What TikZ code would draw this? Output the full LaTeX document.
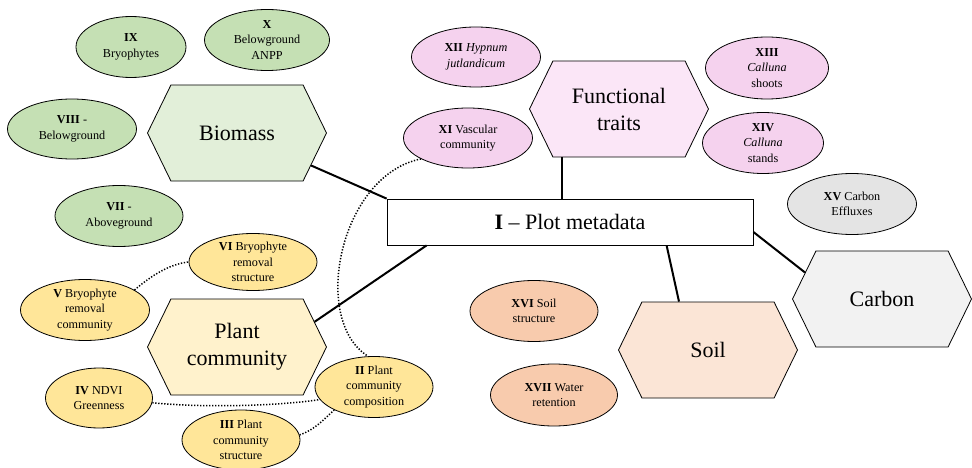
\documentclass[tikz,border=0pt]{standalone}
\usepackage{fontspec}
\setmainfont{Liberation Serif}
\usetikzlibrary{shapes.symbols,shapes.geometric,calc}
\definecolor{bioA}{HTML}{E2EFD9}
\definecolor{bioB}{HTML}{C5E0B4}
\definecolor{ftA}{HTML}{FBE6F7}
\definecolor{ftB}{HTML}{F5D2EE}
\definecolor{pcA}{HTML}{FFF2CC}
\definecolor{pcB}{HTML}{FFE699}
\definecolor{soA}{HTML}{FBE5D6}
\definecolor{soB}{HTML}{F8CBAD}
\definecolor{caA}{HTML}{F2F2F2}
\definecolor{caB}{HTML}{E4E4E4}

\begin{document}
\begin{tikzpicture}[x=1pt,y=-1pt,
  hexa/.style={shape=signal,signal to=east and west,signal pointer angle=128,draw,line width=0.8pt,
    minimum width=179pt,minimum height=96pt,inner sep=0pt,align=center,font=\fontsize{22}{27}\selectfont},
  oval/.style={ellipse,draw,line width=0.8pt,inner sep=0pt,align=center,font=\fontsize{12.2}{15.5}\selectfont},
  link/.style={line width=2pt},
  dots/.style={line width=1.5pt,dash pattern=on 1.3pt off 1.7pt}]
\useasboundingbox (0,0) rectangle (972,468);
% themes
\node[hexa,fill=bioA] (biomass) at (237,133) {Biomass};
\node[hexa,fill=ftA] (traits) at (619,109) {Functional\\traits};
\node[hexa,fill=pcA] (plant) at (237,347) {Plant\\community};
\node[hexa,fill=soA] (soil) at (708,350) {Soil};
\node[hexa,fill=caA] (carbon) at (882,299) {Carbon};
\node[draw,line width=0.8pt,fill=white,minimum width=366pt,minimum height=46pt,
  font=\fontsize{22}{27}\selectfont] (meta) at (570,222) {\textbf{I} -- Plot metadata};
% datasets
\foreach \nm/\x/\y/\w/\h/\col/\txt in {
  ix/131/47/110/61/bioB/{\textbf{IX}\\Bryophytes},
  x/267/40/125/61/bioB/{\textbf{X}\\Belowground\\ANPP},
  viii/72/129/129/60/bioB/{\textbf{VIII} -\\Belowground},
  vii/119/216/128/61/bioB/{\textbf{VII} -\\Aboveground},
  xii/476/57/129/60/ftB/{\textbf{XII} \textit{Hypnum}\\\textit{jutlandicum}},
  xi/468/138/129/60/ftB/{\textbf{XI} Vascular\\community},
  xiii/767/68/123/62/ftB/{\textbf{XIII}\\\textit{Calluna}\\shoots},
  xiv/763/143/121/61/ftB/{\textbf{XIV}\\\textit{Calluna}\\stands},
  xv/852/204/129/61/caB/{\textbf{XV} Carbon\\Effluxes},
  vi/253/262/128/57/pcB/{\textbf{VI} Bryophyte\\removal\\structure},
  v/85/310/129/61/pcB/{\textbf{V} Bryophyte\\removal\\community},
  iv/99/398/107/60/pcB/{\textbf{IV} NDVI\\Greenness},
  ii/374/387/118/61/pcB/{\textbf{II} Plant\\community\\composition},
  iii/241/440/118/60/pcB/{\textbf{III} Plant\\community\\structure},
  xvi/534/311/128/61/soB/{\textbf{XVI} Soil\\structure},
  xvii/554/395/127/62/soB/{\textbf{XVII} Water\\retention}}
  \node[oval,fill=\col,minimum width=\w pt,minimum height=\h pt] (\nm) at (\x,\y) {\txt};
% links to metadata
\coordinate (tx) at (562,0);
\draw[link] (biomass) -- (meta.north west);
\draw[link] (plant.18) -- ($(meta.south west)+(40,0)$);
\draw[link] (traits.south -| tx) -- (meta.north -| tx);
\draw[link] ($(meta.south west)+(280,0)$) -- ($(soil.north)+(-29,0)$);
\draw[link] ($(meta.east)+(0,10)$) -- (carbon.161);
% dotted links
\draw[dots] (xi.204) .. controls (340,175) and (310,320) .. (ii.101);
\draw[dots] (v.22) .. controls (152,275) and (170,264) .. (vi.west);
\draw[dots] (iv.-5) .. controls (200,408) and (280,406) .. (ii.193);
\draw[dots] (iii.5) .. controls (315,430) and (325,418) .. (ii.210);
\end{tikzpicture}
\end{document}
